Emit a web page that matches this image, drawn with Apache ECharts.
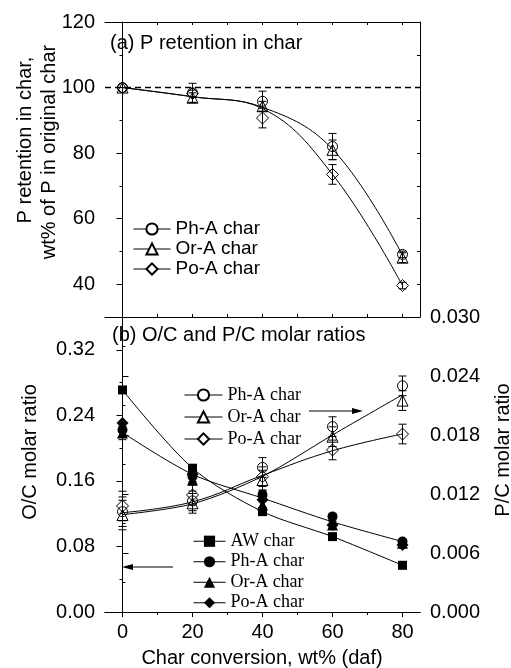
<!DOCTYPE html>
<html>
<head>
<meta charset="utf-8">
<script src="https://cdn.jsdelivr.net/npm/echarts@6/dist/echarts.min.js"></script>
<style>
  html, body { margin: 0; padding: 0; background: #fff; }
  #chart { width: 511px; height: 668px; }
</style>
</head>
<body>
<div id="chart"></div>
<script>
const conversion = [0, 20, 40, 60, 80];

// (a) P retention in char, wt% of P in original char
const retPhA = [100, 98.4, 95.8, 82, 49.1];
const retOrA = [100, 96.9, 94.3, 81, 48.1];
const retPoA = [100, 98.2, 90.7, 73.5, 39.6];
const retErrPhA = [0, 2.9, 3.1, 4, 1];
const retErrOrA = [0, 1.5, 1.5, 3, 1.5];
const retErrPoA = [0, 1, 3, 3, 1];
const retFitUpper = [100, 97.2, 94, 81.2, 48.8];
const retFitLower = [100, 97.2, 93.6, 73.5, 39.6];

// (b) O/C molar ratio, left axis
const ocAW = [0.271, 0.1755, 0.1225, 0.092, 0.057];
const ocPhA = [0.222, 0.1653, 0.1429, 0.1164, 0.0859];
const ocOrA = [0.2183, 0.1612, 0.1307, 0.1063, 0.084];
const ocPoA = [0.2305, 0.168, 0.137, 0.1063, 0.0818];
const ocErr = [0.008, 0.006, 0.005, 0.004, 0.003];
const ocFitAcid = [0.219, 0.168, 0.139, 0.110, 0.086];
const ocTicks = [0, 0.08, 0.16, 0.24, 0.32];

// (b) P/C molar ratio, right axis
const pcPhA = [0.0102, 0.0113, 0.0147, 0.01885, 0.0230];
const pcOrA = [0.00986, 0.01105, 0.01342, 0.01783, 0.0215];
const pcPoA = [0.01078, 0.0119, 0.01376, 0.01648, 0.0181];
const pcErr = [0.0015, 0.001, 0.001, 0.001, 0.001];
const pcFitPhOr = [0.0099, 0.0110, 0.0138, 0.0180, 0.0221];
const pcFitPo = [0.0101, 0.0112, 0.0139, 0.0164, 0.0181];

const SANS = 'Liberation Sans';
const SERIF = 'Liberation Serif';

function pts(ys) {
  return conversion.map((x, i) => [x, ys[i]]);
}
function errPts(ys, es) {
  return conversion.map((x, i) => [x, ys[i] - es[i], ys[i] + es[i]]).filter((d, i) => es[i] > 0);
}

function marks(name, xi, yi, ys, symbol, size, filled) {
  return {
    type: 'line', name: name, xAxisIndex: xi, yAxisIndex: yi,
    data: pts(ys), symbol: symbol, symbolSize: size, showSymbol: true,
    lineStyle: { opacity: 0 },
    itemStyle: filled ? { color: '#000' }
      : { color: 'rgba(0,0,0,0)', borderColor: '#000', borderWidth: 1 },
    emphasis: { disabled: true }, z: 4
  };
}

function fit(xi, yi, ys, extra) {
  return Object.assign({
    type: 'line', xAxisIndex: xi, yAxisIndex: yi, data: pts(ys),
    smooth: 0.4, symbol: 'none', silent: true,
    lineStyle: { color: '#000', width: 1 }, z: 2
  }, extra || {});
}

function errors(xi, yi, data) {
  return {
    type: 'custom', xAxisIndex: xi, yAxisIndex: yi, data: data, silent: true, z: 5,
    encode: { x: 0, y: [1, 2] },
    renderItem: function (params, api) {
      const x = api.value(0);
      const lo = api.coord([x, api.value(1)]);
      const hi = api.coord([x, api.value(2)]);
      const w = 4;
      const st = { stroke: '#000', lineWidth: 1 };
      return {
        type: 'group', children: [
          { type: 'line', shape: { x1: hi[0], y1: hi[1], x2: lo[0], y2: lo[1] }, style: st },
          { type: 'line', shape: { x1: hi[0] - w, y1: hi[1], x2: hi[0] + w, y2: hi[1] }, style: st },
          { type: 'line', shape: { x1: lo[0] - w, y1: lo[1], x2: lo[0] + w, y2: lo[1] }, style: st }
        ]
      };
    }
  };
}

const axisLine = { show: true, lineStyle: { color: '#000', width: 1 } };
const labelStyle = { color: '#000', fontFamily: SANS, fontSize: 20 };

const chart = echarts.init(document.getElementById('chart'));

const option = {
  backgroundColor: '#fff',
  animation: false,
  grid: [
    { left: 105, top: 22, width: 315, height: 295 },
    { left: 105, top: 317, width: 315, height: 295 }
  ],
  xAxis: [
    // 0: top panel bottom
    { gridIndex: 0, type: 'value', min: -5, max: 85, position: 'bottom', axisLine: axisLine,
      axisTick: { inside: true, length: 3, customValues: [0, 10, 20, 30, 40, 50, 60, 70, 80], lineStyle: { color: '#000' } },
      axisLabel: { show: false }, splitLine: { show: false } },
    // 1: top panel top
    { gridIndex: 0, type: 'value', min: -5, max: 85, position: 'top', axisLine: axisLine,
      axisTick: { inside: true, length: 3, customValues: [0, 10, 20, 30, 40, 50, 60, 70, 80], lineStyle: { color: '#000' } },
      axisLabel: { show: false }, splitLine: { show: false } },
    // 2: bottom panel bottom, labelled
    { gridIndex: 1, type: 'value', min: -5, max: 85, position: 'bottom', axisLine: axisLine,
      axisTick: { length: 5, customValues: conversion, lineStyle: { color: '#000' } },
      axisLabel: Object.assign({ margin: 10, customValues: conversion }, labelStyle),
      splitLine: { show: false } },
    // 3: bottom panel minor ticks
    { gridIndex: 1, type: 'value', min: -5, max: 85, position: 'bottom', axisLine: { show: false },
      axisTick: { length: 3, customValues: [10, 30, 50, 70], lineStyle: { color: '#000' } },
      axisLabel: { show: false }, splitLine: { show: false } },
    // 4: bottom panel top edge
    { gridIndex: 1, type: 'value', min: -5, max: 85, position: 'top', axisLine: axisLine,
      axisTick: { show: false }, axisLabel: { show: false }, splitLine: { show: false } }
  ],
  yAxis: [
    // 0: P retention
    { gridIndex: 0, type: 'value', min: 30, max: 120, position: 'left', axisLine: axisLine,
      axisTick: { length: 6, customValues: [40, 60, 80, 100, 120], lineStyle: { color: '#000' } },
      axisLabel: Object.assign({ margin: 10, customValues: [40, 60, 80, 100, 120] }, labelStyle),
      splitLine: { show: false } },
    // 1: P retention minor ticks
    { gridIndex: 0, type: 'value', min: 30, max: 120, position: 'left', axisLine: { show: false },
      axisTick: { length: 3, customValues: [50, 70, 90, 110], lineStyle: { color: '#000' } },
      axisLabel: { show: false }, splitLine: { show: false } },
    // 2: top panel right edge
    { gridIndex: 0, type: 'value', min: 30, max: 120, position: 'right', axisLine: axisLine,
      axisTick: { inside: true, length: 3, customValues: [40, 50, 60, 70, 80, 90, 100, 110], lineStyle: { color: '#000' } },
      axisLabel: { show: false }, splitLine: { show: false } },
    // 3: O/C
    { gridIndex: 1, type: 'value', min: 0, max: 0.36, position: 'left', axisLine: axisLine,
      axisTick: { length: 6, customValues: ocTicks, lineStyle: { color: '#000' } },
      axisLabel: Object.assign({ margin: 10, customValues: ocTicks, formatter: v => v.toFixed(2) }, labelStyle),
      splitLine: { show: false } },
    // 4: O/C minor ticks
    { gridIndex: 1, type: 'value', min: 0, max: 0.36, position: 'left', axisLine: { show: false },
      axisTick: { length: 3, customValues: [0.04, 0.12, 0.2, 0.28], lineStyle: { color: '#000' } },
      axisLabel: { show: false }, splitLine: { show: false } },
    // 5: P/C
    { gridIndex: 1, type: 'value', min: 0, max: 0.03, interval: 0.006, position: 'right', axisLine: axisLine,
      axisTick: { length: 6, lineStyle: { color: '#000' } },
      minorTick: { show: true, splitNumber: 2, length: 3, lineStyle: { color: '#000' } },
      axisLabel: Object.assign({ margin: 10, formatter: v => v.toFixed(3) }, labelStyle),
      splitLine: { show: false } }
  ],
  legend: [
    { orient: 'vertical', left: 128, top: 214, itemWidth: 37, itemHeight: 14, itemGap: 0,
      selectedMode: false, formatter: n => n.split(':')[1],
      itemStyle: { color: '#fff' }, lineStyle: { color: '#000', width: 1, opacity: 1 },
      textStyle: { color: '#000', fontFamily: SANS, fontSize: 19, lineHeight: 20 },
      data: ['a:Ph-A char', 'a:Or-A char', 'a:Po-A char'] },
    { orient: 'vertical', left: 179, top: 379, itemWidth: 38, itemHeight: 14, itemGap: 0,
      selectedMode: false, formatter: n => n.split(':')[1],
      itemStyle: { color: '#fff' }, lineStyle: { color: '#000', width: 1, opacity: 1 },
      textStyle: { color: '#000', fontFamily: SERIF, fontSize: 18, lineHeight: 22 },
      data: ['pc:Ph-A char', 'pc:Or-A char', 'pc:Po-A char'] },
    { orient: 'vertical', left: 188, top: 526, itemWidth: 32, itemHeight: 14, itemGap: 0,
      selectedMode: false, formatter: n => n.split(':')[1],
      lineStyle: { color: '#000', width: 1, opacity: 1 },
      textStyle: { color: '#000', fontFamily: SERIF, fontSize: 18, lineHeight: 20.5 },
      data: ['oc:AW char', 'oc:Ph-A char', 'oc:Or-A char', 'oc:Po-A char'] }
  ],
  graphic: [
    { type: 'text', x: 110, y: 43, style: { text: '(a) P retention in char', font: '20px "Liberation Sans"', fill: '#000', verticalAlign: 'middle' } },
    { type: 'text', x: 112, y: 335, style: { text: '(b) O/C and P/C molar ratios', font: '20px "Liberation Sans"', fill: '#000', verticalAlign: 'middle' } },
    { type: 'text', x: 25, y: 140, rotation: Math.PI / 2, style: { text: 'P retention in char,', font: '20px "Liberation Sans"', fill: '#000', align: 'center', verticalAlign: 'middle' } },
    { type: 'text', x: 49, y: 152, rotation: Math.PI / 2, style: { text: 'wt% of P in original char', font: '20px "Liberation Sans"', fill: '#000', align: 'center', verticalAlign: 'middle' } },
    { type: 'text', x: 30, y: 452, rotation: Math.PI / 2, style: { text: 'O/C molar ratio', font: '20px "Liberation Sans"', fill: '#000', align: 'center', verticalAlign: 'middle' } },
    { type: 'text', x: 503, y: 450, rotation: Math.PI / 2, style: { text: 'P/C molar ratio', font: '20px "Liberation Sans"', fill: '#000', align: 'center', verticalAlign: 'middle' } },
    { type: 'text', x: 262, y: 658, style: { text: 'Char conversion, wt% (daf)', font: '20px "Liberation Sans"', fill: '#000', align: 'center', verticalAlign: 'middle' } },
    // arrows pointing at the axes
    { type: 'line', shape: { x1: 309, y1: 411, x2: 356, y2: 411 }, style: { stroke: '#000', lineWidth: 1 } },
    { type: 'polygon', shape: { points: [[363, 411], [352, 408], [352, 414]] }, style: { fill: '#000' } },
    { type: 'line', shape: { x1: 173, y1: 567, x2: 129, y2: 567 }, style: { stroke: '#000', lineWidth: 1 } },
    { type: 'polygon', shape: { points: [[122, 567], [133, 564], [133, 570]] }, style: { fill: '#000' } }
  ],
  series: [
    // (a)
    fit(0, 0, retFitUpper, {
      markLine: { symbol: 'none', silent: true, label: { show: false },
        lineStyle: { color: '#000', width: 1.3, type: [6, 4] }, data: [{ yAxis: 100 }] }
    }),
    fit(0, 0, retFitLower),
    errors(0, 0, errPts(retPhA, retErrPhA)),
    errors(0, 0, errPts(retOrA, retErrOrA)),
    errors(0, 0, errPts(retPoA, retErrPoA)),
    marks('a:Ph-A char', 0, 0, retPhA, 'circle', 10, false),
    marks('a:Or-A char', 0, 0, retOrA, 'triangle', 11, false),
    marks('a:Po-A char', 0, 0, retPoA, 'diamond', 12, false),
    // (b) O/C
    fit(2, 3, ocAW, { smooth: 0.3 }),
    fit(2, 3, ocFitAcid, { smooth: 0.3 }),
    errors(2, 3, errPts(ocPhA, ocErr)),
    errors(2, 3, errPts(ocOrA, ocErr)),
    marks('oc:AW char', 2, 3, ocAW, 'rect', 9, true),
    marks('oc:Ph-A char', 2, 3, ocPhA, 'circle', 10, true),
    marks('oc:Or-A char', 2, 3, ocOrA, 'triangle', 11, true),
    marks('oc:Po-A char', 2, 3, ocPoA, 'diamond', 12, true),
    // (b) P/C
    fit(2, 5, pcFitPhOr, { smooth: 0.3 }),
    fit(2, 5, pcFitPo, { smooth: 0.4 }),
    errors(2, 5, errPts(pcPhA, pcErr)),
    errors(2, 5, errPts(pcOrA, pcErr)),
    errors(2, 5, errPts(pcPoA, pcErr)),
    marks('pc:Ph-A char', 2, 5, pcPhA, 'circle', 10, false),
    marks('pc:Or-A char', 2, 5, pcOrA, 'triangle', 11, false),
    marks('pc:Po-A char', 2, 5, pcPoA, 'diamond', 12, false)
  ]
};

chart.setOption(option);
</script>
</body>
</html>
